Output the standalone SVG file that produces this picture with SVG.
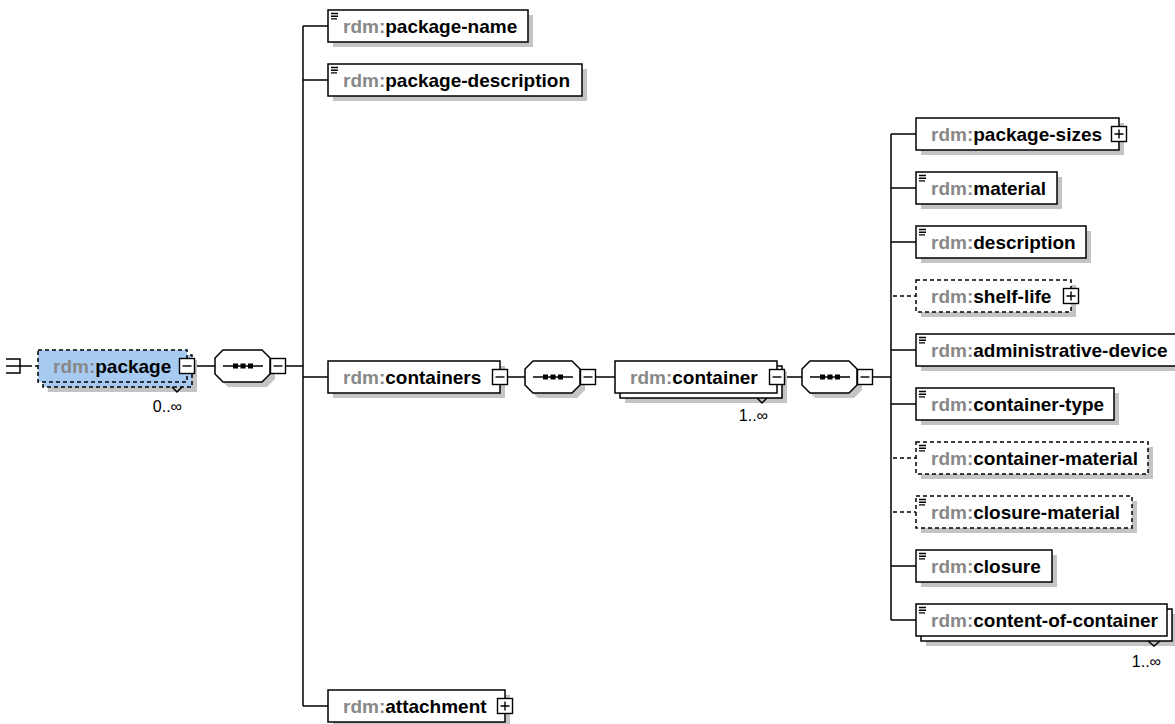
<svg xmlns="http://www.w3.org/2000/svg" width="1175" height="724" viewBox="0 0 1175 724">
<defs>
<style>
.box{fill:#fff;stroke:#000;stroke-width:1.5}
.opt{stroke-dasharray:4 3}
.sel{fill:#a6caf0;stroke:#000;stroke-width:1.5;stroke-dasharray:4 3}
.sh{fill:#c4c4c4;stroke:none}
.ln{stroke:#000;stroke-width:1.5;fill:none}
.dl{stroke-dasharray:4 3}
.t{font-family:"Liberation Sans",Arial,sans-serif;font-size:19px;font-weight:bold;fill:#000}
.p{fill:#888}
.occ{font-family:"Liberation Sans",Arial,sans-serif;font-size:16px;fill:#000}
.btn{fill:#fff;stroke:#000;stroke-width:1.4}
.ic{stroke:#000;stroke-width:1.4}
.sq{fill:#000}
</style>
<g id="ico"><path class="ic" d="M3,3.5H10M3,6.2H10M3,8.9H9"/></g>
<g id="minus"><rect class="btn" x="-7.5" y="-7.5" width="15" height="15"/><path class="ic" d="M-4.5,0H4.5"/></g>
<g id="plus"><rect class="btn" x="-7.5" y="-7.5" width="15" height="15"/><path class="ic" d="M-4.5,0H4.5M0,-4.5V4.5"/></g>
<g id="seq">
<polygon class="sh" points="13,5 52,5 60,13 60,29 52,37 13,37 5,29 5,13"/>
<polygon class="box" points="8,0 47,0 55,8 55,24 47,32 8,32 0,24 0,8"/>
<path class="ln" d="M8,16H48"/>
<rect class="sq" x="18" y="13.5" width="5" height="5"/>
<rect class="sq" x="25.5" y="13.5" width="5" height="5"/>
<rect class="sq" x="33" y="13.5" width="5" height="5"/>
</g>
</defs>
<rect width="1175" height="724" fill="#fff"/>

<g id="connectors">
<path class="ln" d="M6,359H20V373H6M6,366H28"/>
<path class="ln dl" d="M28,366H38"/>
<path class="ln" d="M194,366H215"/>
<path class="ln" d="M285,366H303"/>
<path class="ln" d="M303,26V706M303,26H328M303,80H328M303,377H328M303,706H328"/>
<path class="ln" d="M507,377H525"/>
<path class="ln" d="M595,377H615"/>
<path class="ln" d="M784,377H802"/>
<path class="ln" d="M872,377H891"/>
<path class="ln" d="M891,134V620M891,134H916M891,188H916M891,242H916M891,350H916M891,404H916M891,566H916M891,620H916"/>
<path class="ln dl" d="M893,296H916M893,458H916M893,512H916"/>
</g>

<g id="package">
<rect class="sh" x="48" y="360" width="149" height="32"/>
<rect class="sel" x="43" y="355" width="149" height="32"/>
<rect class="sel" x="38" y="350" width="149" height="32"/>
<path class="ln" stroke-width="1" d="M172,387L177,392L182,387"/>
<text class="t" x="53" y="373"><tspan class="p">rdm:</tspan>package</text>
<use href="#minus" x="187" y="366"/>
<text class="occ" x="182" y="412" text-anchor="end">0..∞</text>
</g>

<g id="seq1"><use href="#seq" x="215" y="350"/><use href="#minus" x="278" y="366"/></g>

<g id="package-name">
<rect class="sh" x="333" y="15" width="200" height="32"/>
<rect class="box" x="328" y="10" width="200" height="32"/>
<use href="#ico" x="328" y="10"/>
<text class="t" x="343" y="33"><tspan class="p">rdm:</tspan>package-name</text>
</g>

<g id="package-description">
<rect class="sh" x="333" y="69" width="254" height="32"/>
<rect class="box" x="328" y="64" width="254" height="32"/>
<use href="#ico" x="328" y="64"/>
<text class="t" x="343" y="87"><tspan class="p">rdm:</tspan>package-description</text>
</g>

<g id="containers">
<rect class="sh" x="333" y="366" width="172" height="32"/>
<rect class="box" x="328" y="361" width="172" height="32"/>
<text class="t" x="343" y="384"><tspan class="p">rdm:</tspan>containers</text>
<use href="#minus" x="500" y="377"/>
</g>

<g id="seq2"><use href="#seq" x="525" y="361"/><use href="#minus" x="588" y="377"/></g>

<g id="container">
<rect class="sh" x="625" y="371" width="162" height="32"/>
<rect class="box" x="620" y="366" width="162" height="32"/>
<rect class="box" x="615" y="361" width="162" height="32"/>
<path class="ln" stroke-width="1" d="M757,398L762,403L767,398"/>
<text class="t" x="630" y="384"><tspan class="p">rdm:</tspan>container</text>
<use href="#minus" x="777" y="377"/>
<text class="occ" x="768" y="421" text-anchor="end">1..∞</text>
</g>

<g id="seq3"><use href="#seq" x="802" y="361"/><use href="#minus" x="865" y="377"/></g>

<g id="attachment">
<rect class="sh" x="333" y="695" width="177" height="32"/>
<rect class="box" x="328" y="690" width="177" height="32"/>
<text class="t" x="343" y="713"><tspan class="p">rdm:</tspan>attachment</text>
<use href="#plus" x="505" y="706"/>
</g>

<g id="package-sizes">
<rect class="sh" x="921" y="123" width="203" height="32"/>
<rect class="box" x="916" y="118" width="203" height="32"/>
<text class="t" x="931" y="141"><tspan class="p">rdm:</tspan>package-sizes</text>
<use href="#plus" x="1119" y="134"/>
</g>

<g id="material">
<rect class="sh" x="921" y="177" width="141" height="32"/>
<rect class="box" x="916" y="172" width="141" height="32"/>
<use href="#ico" x="916" y="172"/>
<text class="t" x="931" y="195"><tspan class="p">rdm:</tspan>material</text>
</g>

<g id="description">
<rect class="sh" x="921" y="231" width="170" height="32"/>
<rect class="box" x="916" y="226" width="170" height="32"/>
<use href="#ico" x="916" y="226"/>
<text class="t" x="931" y="249"><tspan class="p">rdm:</tspan>description</text>
</g>

<g id="shelf-life">
<rect class="sh" x="921" y="285" width="155" height="32"/>
<rect class="box opt" x="916" y="280" width="155" height="32"/>
<text class="t" x="931" y="303"><tspan class="p">rdm:</tspan>shelf-life</text>
<use href="#plus" x="1071" y="296"/>
</g>

<g id="administrative-device">
<rect class="sh" x="921" y="339" width="264" height="32"/>
<rect class="box" x="916" y="334" width="264" height="32"/>
<use href="#ico" x="916" y="334"/>
<text class="t" x="931" y="357"><tspan class="p">rdm:</tspan>administrative-device</text>
</g>

<g id="container-type">
<rect class="sh" x="921" y="393" width="198" height="32"/>
<rect class="box" x="916" y="388" width="198" height="32"/>
<use href="#ico" x="916" y="388"/>
<text class="t" x="931" y="411"><tspan class="p">rdm:</tspan>container-type</text>
</g>

<g id="container-material">
<rect class="sh" x="921" y="447" width="232" height="32"/>
<rect class="box opt" x="916" y="442" width="232" height="32"/>
<use href="#ico" x="916" y="442"/>
<text class="t" x="931" y="465"><tspan class="p">rdm:</tspan>container-material</text>
</g>

<g id="closure-material">
<rect class="sh" x="921" y="501" width="216" height="32"/>
<rect class="box opt" x="916" y="496" width="216" height="32"/>
<use href="#ico" x="916" y="496"/>
<text class="t" x="931" y="519"><tspan class="p">rdm:</tspan>closure-material</text>
</g>

<g id="closure">
<rect class="sh" x="921" y="555" width="136" height="32"/>
<rect class="box" x="916" y="550" width="136" height="32"/>
<use href="#ico" x="916" y="550"/>
<text class="t" x="931" y="573"><tspan class="p">rdm:</tspan>closure</text>
</g>

<g id="content-of-container">
<rect class="sh" x="926" y="614" width="251" height="32"/>
<rect class="box" x="921" y="609" width="251" height="32"/>
<rect class="box" x="916" y="604" width="251" height="32"/>
<use href="#ico" x="916" y="604"/>
<path class="ln" stroke-width="1" d="M1148,641L1154,646L1160,641"/>
<text class="t" x="931" y="627"><tspan class="p">rdm:</tspan>content-of-container</text>
<text class="occ" x="1161" y="667" text-anchor="end">1..∞</text>
</g>
</svg>
